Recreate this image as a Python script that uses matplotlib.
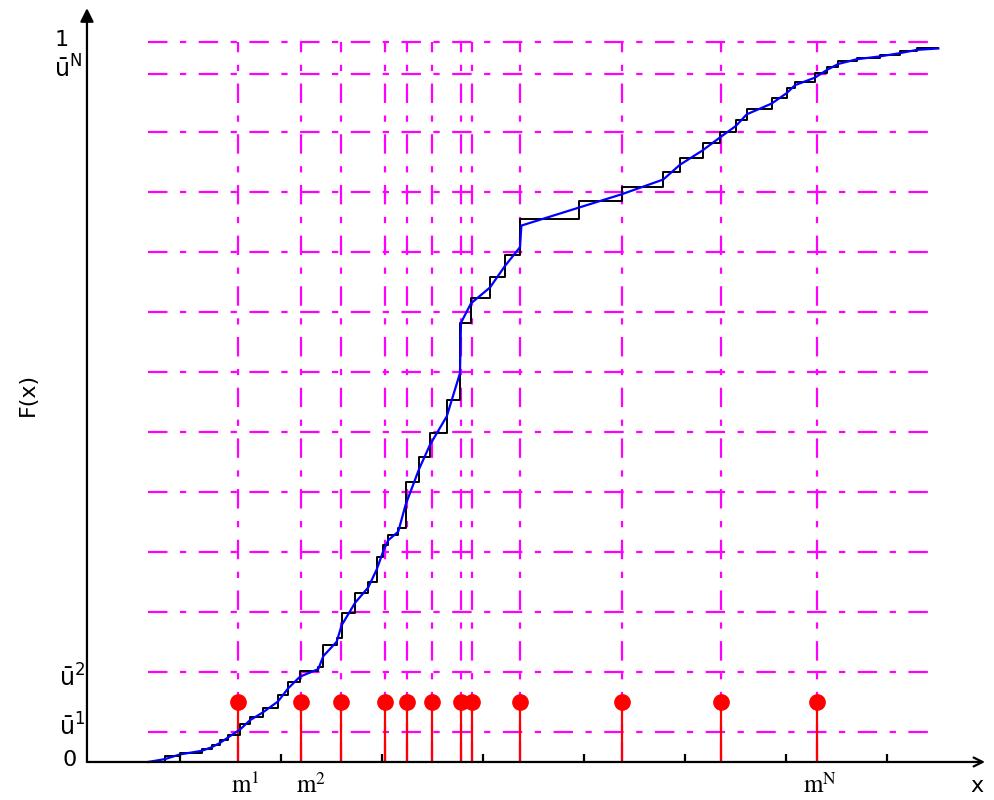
import matplotlib
matplotlib.use("Agg")
import matplotlib.pyplot as plt

plt.rcParams['lines.scale_dashes'] = False
plt.rcParams['mathtext.fontset'] = 'dejavusans'

# empirical cdf: jump positions and level after each jump
step_x = [0.683, 0.851, 1.000, 1.215, 1.314, 1.396, 1.475, 1.594, 1.693, 1.822,
          1.970, 2.069, 2.188, 2.369, 2.419, 2.551, 2.601, 2.733, 2.864, 2.948,
          3.013, 3.062, 3.161, 3.233, 3.366, 3.475, 3.641, 3.772, 3.881, 4.069,
          4.218, 4.366, 4.950, 5.373, 5.785, 5.950, 6.175, 6.347, 6.505, 6.611,
          6.858, 7.007, 7.089, 7.287, 7.403, 7.518, 7.700, 7.931, 8.129, 8.294,
          8.508]
step_y = [0.0, 0.008, 0.013, 0.018, 0.023, 0.030, 0.0375, 0.053, 0.0625, 0.075,
          0.093, 0.111, 0.126, 0.132, 0.1625, 0.172, 0.207, 0.235, 0.250, 0.285,
          0.301, 0.315, 0.325, 0.389, 0.424, 0.457, 0.503, 0.610, 0.644, 0.674,
          0.704, 0.754, 0.779, 0.798, 0.820, 0.839, 0.860, 0.875, 0.892, 0.907,
          0.922, 0.936, 0.944, 0.957, 0.965, 0.974, 0.978, 0.982, 0.987, 0.991,
          0.991]

# smoothed (piecewise linear) cdf
smooth_x = [0.683, 0.851, 1.000, 1.215, 1.314, 1.396, 1.475, 1.594, 1.693, 1.822,
            1.970, 2.069, 2.188, 2.369, 2.419, 2.551, 2.601, 2.733, 2.864, 2.948,
            3.013, 3.062, 3.161, 3.233, 3.366, 3.475, 3.641, 3.772, 3.782, 3.881,
            4.069, 4.218, 4.366, 4.380, 4.950, 5.373, 5.785, 5.950, 6.175, 6.347,
            6.505, 6.611, 6.858, 7.007, 7.089, 7.287, 7.403, 7.518, 7.700, 7.931,
            8.129, 8.294, 8.508]
smooth_y = [0.0, 0.004, 0.0105, 0.0155, 0.0205, 0.0265, 0.034, 0.045, 0.058, 0.069,
            0.084, 0.102, 0.1185, 0.129, 0.147, 0.167, 0.19, 0.221, 0.2425, 0.2675,
            0.293, 0.308, 0.32, 0.357, 0.4065, 0.4405, 0.48, 0.54, 0.61, 0.637,
            0.659, 0.689, 0.715, 0.745, 0.770, 0.7885, 0.809, 0.8295, 0.8495, 0.8675,
            0.8835, 0.8995, 0.9145, 0.929, 0.94, 0.9505, 0.961, 0.9695, 0.976, 0.98,
            0.9845, 0.989, 0.991]

# quantile levels u^k and the points m^k
u_levels = [0.0417, 0.125, 0.2083, 0.2917, 0.375, 0.4583, 0.5417, 0.625,
            0.7083, 0.7917, 0.875, 0.955, 1.0]
m_points = [1.574, 2.198, 2.599, 3.030, 3.248, 3.495, 3.782, 3.891,
            4.366, 5.376, 6.356, 7.307]
x_ticks = [1, 2, 3, 4, 5, 6, 7, 8]
stem_h = 0.083

fig = plt.figure(figsize=(9.95, 8), dpi=100)
ax = fig.add_axes([0, 0, 1, 1])
ax.set_xlim(-0.782, 9.069)
ax.set_ylim(-0.0528, 1.0583)
ax.axis('off')

dashdot = (0, (14, 9, 4.5, 9))
ax.hlines(u_levels, step_x[0], step_x[-1], colors='#ff00ff', linestyles=[dashdot], lw=1.6, zorder=1)
ax.vlines(m_points, 0, 1.0, colors='#ff00ff', linestyles=[dashdot], lw=1.6, zorder=1)

ax.vlines(m_points, 0, stem_h, colors='red', lw=1.6, zorder=2)
ax.plot(m_points, [stem_h] * len(m_points), 'o', color='red', ms=11, zorder=2)

ax.step(step_x, step_y, where='post', color='black', lw=1.4, zorder=3)
ax.plot(smooth_x, smooth_y, color='#0000ff', lw=1.6, zorder=4)

# axes with arrows
ax.annotate('', xy=(8.97, 0), xytext=(0.079, 0),
            arrowprops=dict(arrowstyle='->', lw=1.6, color='black',
                            shrinkA=0, shrinkB=0, mutation_scale=16), zorder=5)
ax.annotate('', xy=(0.079, 1.047), xytext=(0.079, 0),
            arrowprops=dict(arrowstyle='-|>', lw=1.6, color='black',
                            shrinkA=0, shrinkB=0, mutation_scale=20), zorder=5)
ax.vlines(x_ticks, 0, 0.011, colors='black', lw=1.6, zorder=5)

fs = 16
ax.text(-0.175, 1.003, '1', fontsize=fs, ha='center', va='center')
ax.text(-0.105, 0.962, r'$\bar{\mathrm{u}}^{\mathrm{N}}$', fontsize=17, ha='center', va='center')
ax.text(-0.065, 0.117, r'$\bar{\mathrm{u}}^{2}$', fontsize=17, ha='center', va='center')
ax.text(-0.065, 0.048, r'$\bar{\mathrm{u}}^{1}$', fontsize=17, ha='center', va='center')
ax.text(-0.089, 0.003, '0', fontsize=fs, ha='center', va='center')
ax.text(-0.505, 0.51, 'F(x)', fontsize=fs, ha='center', va='center', rotation=90)

ax.text(1.644, -0.033, r'$\mathrm{m}^{1}$', fontsize=18, ha='center', va='center', math_fontfamily='stix')
ax.text(2.297, -0.033, r'$\mathrm{m}^{2}$', fontsize=18, ha='center', va='center', math_fontfamily='stix')
ax.text(7.337, -0.033, r'$\mathrm{m}^{\mathrm{N}}$', fontsize=18, ha='center', va='center', math_fontfamily='stix')
ax.text(8.89, -0.034, 'x', fontsize=fs, ha='center', va='center')

fig.savefig('out.png', dpi=100)
